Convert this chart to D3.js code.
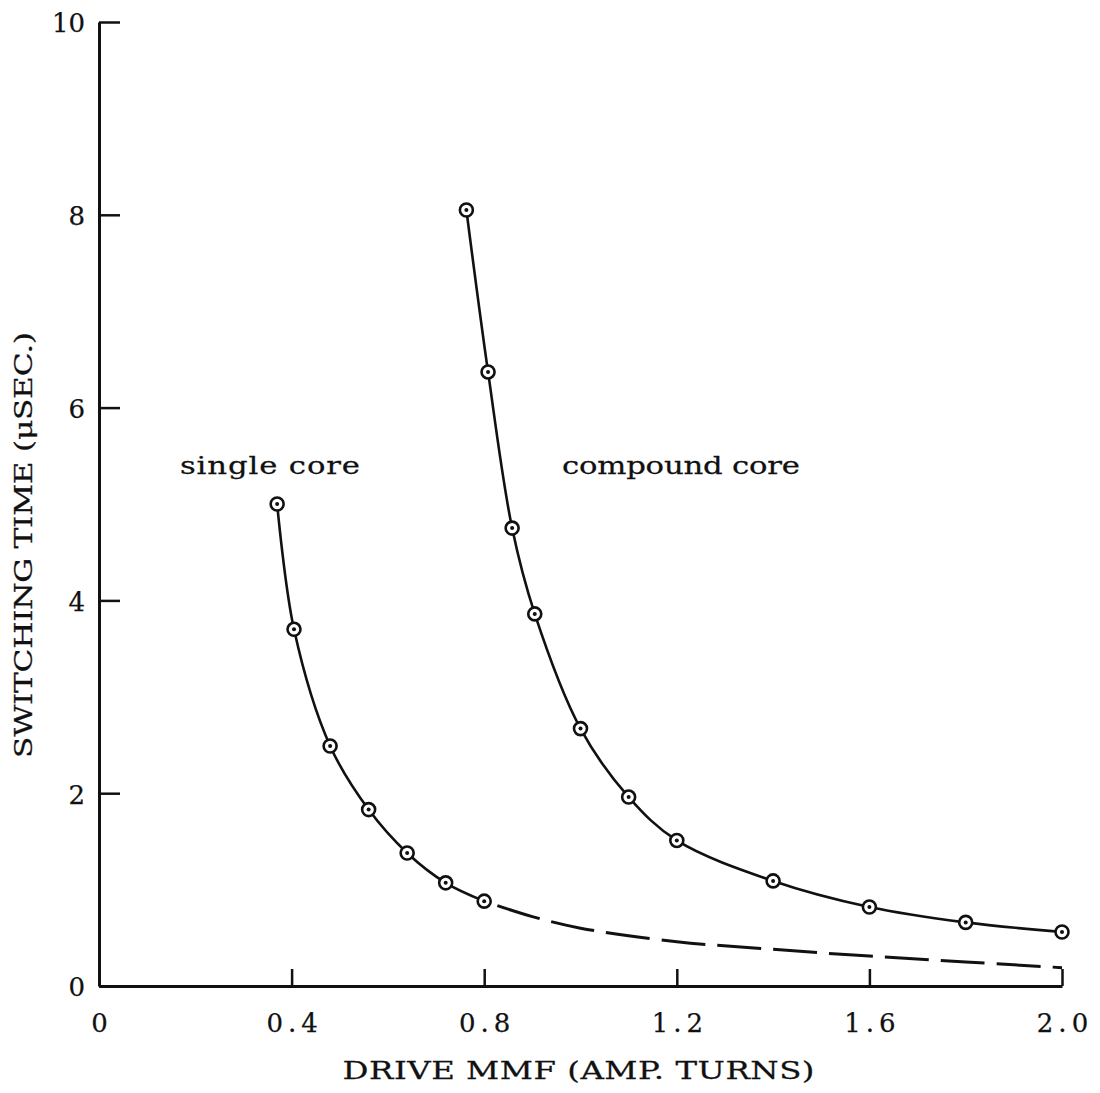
<!DOCTYPE html>
<html>
<head>
<meta charset="utf-8">
<script src="https://cdn.jsdelivr.net/npm/d3@7"></script>
<style>
  html, body { margin: 0; padding: 0; background: #fff; }
  svg { display: block; }
  text { font-family: "DejaVu Serif", "Liberation Serif", serif; fill: #111; }
</style>
</head>
<body>
<svg id="chart" width="1100" height="1093"></svg>
<script>
// ---- data ----
const singleX = [0.37, 0.405, 0.48, 0.56, 0.64, 0.72, 0.80];
const singleY = [5.0, 3.70, 2.49, 1.83, 1.38, 1.07, 0.88];

const singleDashX = [0.80, 0.9, 1.0, 1.2, 1.4, 1.6, 1.8, 2.0];
const singleDashY = [0.88, 0.72, 0.60, 0.46, 0.38, 0.31, 0.25, 0.19];

const compoundX = [0.763, 0.808, 0.858, 0.905, 1.0, 1.1, 1.2, 1.4, 1.6, 1.8, 2.0];
const compoundY = [8.05, 6.37, 4.75, 3.86, 2.67, 1.96, 1.51, 1.09, 0.82, 0.66, 0.56];

const xTicks = [0, 0.4, 0.8, 1.2, 1.6, 2.0];
const xTickLabels = ["0", "0.4", "0.8", "1.2", "1.6", "2.0"];
const yTicks = [0, 2, 4, 6, 8, 10];
const yTickLabels = ["0", "2", "4", "6", "8", "10"];

const xTitle = "DRIVE MMF (AMP.  TURNS)";
const yTitle = "SWITCHING TIME (\u03BCSEC.)";
const labelSingle = "single core";
const labelCompound = "compound core";

// ---- scales ----
const svg = d3.select("#chart");
const x = d3.scaleLinear().domain([0, 2]).range([99, 1062]);
const y = d3.scaleLinear().domain([0, 10]).range([986, 22]);

// ---- axes ----
const xAxis = d3.axisBottom(x)
  .tickValues(xTicks)
  .tickFormat((d, i) => xTickLabels[i])
  .tickSizeInner(-17).tickSizeOuter(0).tickPadding(28);
const yAxis = d3.axisLeft(y)
  .tickValues(yTicks)
  .tickFormat((d, i) => yTickLabels[i])
  .tickSizeInner(-21).tickSizeOuter(0).tickPadding(14);

const gx = svg.append("g").attr("transform", `translate(0,${y(0)})`).call(xAxis);
const gy = svg.append("g").attr("transform", `translate(${x(0)},0)`).call(yAxis);

[gx, gy].forEach(g => {
  g.select(".domain").attr("stroke", "#111").attr("stroke-width", 3);
  g.selectAll(".tick line").attr("stroke", "#111").attr("stroke-width", 2.5);
  g.selectAll(".tick text")
    .style("font-family", '"DejaVu Serif", "Liberation Serif", serif')
    .style("font-size", "26px").attr("fill", "#111")
    .attr("stroke", "#111").attr("stroke-width", 0.25);
});
gx.selectAll(".tick text").style("letter-spacing", "5px").attr("dx", "2.5px");
gy.selectAll(".tick text").attr("dy", "0.38em");

// ---- text helper: horizontal widening (wide Century-like face) + spacing to fit a width ----
function label(str, tx, ty, width, size, anchor, rotate, sx) {
  const g = svg.append("g")
    .attr("transform", `translate(${tx},${ty})` + (rotate ? ` rotate(${rotate})` : "") + ` scale(${sx},1)`);
  g.append("text")
    .attr("text-anchor", anchor)
    .attr("textLength", width / sx).attr("lengthAdjust", "spacing")
    .attr("stroke", "#111").attr("stroke-width", 0.25)
    .style("font-size", size + "px")
    .text(str);
}

label(xTitle, (342 + 815) / 2, 1079, 472, 24, "middle", 0, 1.35);
label(yTitle, 32, 545, 426, 25, "middle", -90, 1.25);
label(labelSingle, 180, 474, 180, 24, "start", 0, 1.28);
label(labelCompound, 562, 474, 238, 24, "start", 0, 1.28);

// ---- curves ----
const line = d3.line()
  .x(d => x(d[0])).y(d => y(d[1]))
  .curve(d3.curveCatmullRom.alpha(0.5));

const singlePts = singleX.map((v, i) => [v, singleY[i]]);
const dashPts = singleDashX.map((v, i) => [v, singleDashY[i]]);
const compoundPts = compoundX.map((v, i) => [v, compoundY[i]]);

svg.append("path").datum(singlePts).attr("d", line)
  .attr("fill", "none").attr("stroke", "#111").attr("stroke-width", 2.6);
svg.append("path").datum(dashPts).attr("d", line)
  .attr("fill", "none").attr("stroke", "#111").attr("stroke-width", 3)
  .attr("stroke-dasharray", "0,14,44,12,44,12,44,12,44,12,44,12,44,12,44,12,44,12,44,12,44,12,44,12,44,12");
svg.append("path").datum(compoundPts).attr("d", line)
  .attr("fill", "none").attr("stroke", "#111").attr("stroke-width", 2.6);

// ---- markers ----
function markers(pts) {
  const g = svg.append("g");
  g.selectAll("circle.ring").data(pts).enter().append("circle")
    .attr("class", "ring")
    .attr("cx", d => x(d[0])).attr("cy", d => y(d[1])).attr("r", 6.5)
    .attr("fill", "#fff").attr("stroke", "#111").attr("stroke-width", 2.6);
  g.selectAll("circle.dot").data(pts).enter().append("circle")
    .attr("class", "dot")
    .attr("cx", d => x(d[0])).attr("cy", d => y(d[1])).attr("r", 2)
    .attr("fill", "#111");
}
markers(singlePts);
markers(compoundPts);
</script>
</body>
</html>
